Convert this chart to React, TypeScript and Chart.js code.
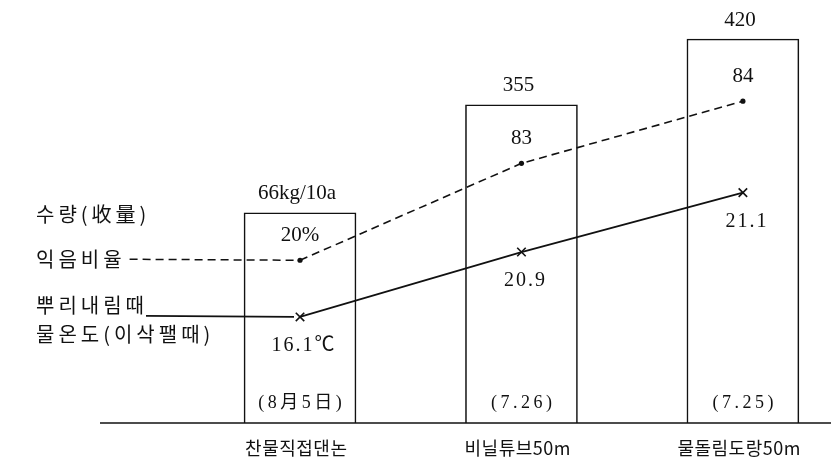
import { useEffect, useRef } from "react";
import { Chart, registerables } from "chart.js";

Chart.register(...registerables);

// ---- data ----
const categories = ["찬물직접댄논", "비닐튜브50m", "물돌림도랑50m"];
const harvestDates = ["(8月5日)", "(7.26)", "(7.25)"];
const seriesNames = ["수량(收量)", "익음비율", "뿌리내림때", "물온도(이삭팰때)"];

// values printed in the figure
const yieldValues = [66, 355, 420]; // kg/10a
const yieldLabels = ["66kg/10a", "355", "420"];
const ripeningValues = [20, 83, 84]; // %
const ripeningLabels = ["20%", "83", "84"];
const waterTempValues = [16.1, 20.9, 21.1]; // ℃
const waterTempLabels = ["16.1℃", "20.9", "21.1"];

// the original figure is schematic (not to scale): heights as drawn,
// expressed on the yield axis (0 – 420)
const yieldDrawn = [230, 348, 420];
const ripeningDrawn = [178, 284, 352];
const waterTempDrawn = [116, 187, 252];

const SERIF = "'Liberation Serif', 'Noto Sans CJK KR', serif";
const KOR = "'Noto Sans CJK KR', 'Liberation Serif', sans-serif";

const toPoints = (arr: number[]) => arr.map((v, i) => ({ x: i + 1, y: v }));

const annotate = {
  id: "annotate",
  afterDatasetsDraw(chart: any) {
    const ctx = chart.ctx as CanvasRenderingContext2D;
    const yScale = chart.scales.y;
    const y0 = yScale.getPixelForValue(0);
    const bars = chart.getDatasetMeta(0).data;
    const ripe = chart.getDatasetMeta(1).data;
    const temp = chart.getDatasetMeta(2).data;
    ctx.save();
    ctx.fillStyle = "#111";
    ctx.strokeStyle = "#111";

    // baseline
    ctx.lineWidth = 1.6;
    ctx.setLineDash([]);
    ctx.beginPath();
    ctx.moveTo(100, y0);
    ctx.lineTo(chart.width, y0);
    ctx.stroke();

    const text = (s: string, x: number, y: number, font: string, spacing: number, align: CanvasTextAlign = "center") => {
      ctx.font = font;
      (ctx as any).letterSpacing = spacing + "px";
      ctx.textAlign = align;
      ctx.textBaseline = "middle";
      const w = ctx.measureText(s).width;
      const dx = align === "center" ? spacing / 2 : 0;
      ctx.fillText(s, x + dx, y);
      return w;
    };

    // bar labels, dates and categories
    bars.forEach((b: any, i: number) => {
      text(yieldLabels[i], b.x - 3, b.y - 19, `21px ${SERIF}`, 0);
      text(harvestDates[i], b.x, y0 - 20, `18px ${SERIF}`, 3.5);
      text(categories[i], b.x - 4, y0 + 25, `18px ${KOR}`, 0.5);
    });

    // line labels
    ripe.forEach((p: any, i: number) => {
      text(ripeningLabels[i], p.x, p.y - 25, `21px ${SERIF}`, 0);
    });
    temp.forEach((p: any, i: number) => {
      text(waterTempLabels[i], p.x + 3, p.y + 29, `20px ${SERIF}`, 2);
    });

    // left-side series names and leader lines
    const kfont = `20px ${KOR}`;
    const x0 = 36;
    text(seriesNames[0], x0, bars[0].y + 2, kfont, 4, "left");
    const w1 = text(seriesNames[1], x0, ripe[0].y - 1, kfont, 4, "left");
    const w2 = text(seriesNames[2], x0, temp[0].y - 12, kfont, 4, "left");
    text(seriesNames[3], x0, temp[0].y + 17, kfont, 4, "left");
    (ctx as any).letterSpacing = "0px";

    ctx.lineWidth = 1.5;
    ctx.setLineDash([8, 5]);
    ctx.beginPath();
    ctx.moveTo(x0 + w1 + 4, ripe[0].y - 1);
    ctx.lineTo(ripe[0].x - 5, ripe[0].y);
    ctx.stroke();

    ctx.setLineDash([]);
    ctx.lineWidth = 1.8;
    ctx.beginPath();
    ctx.moveTo(x0 + w2 - 2, temp[0].y - 1);
    ctx.lineTo(temp[0].x - 6, temp[0].y);
    ctx.stroke();
    ctx.restore();
  },
};

export default function App() {
  const ref = useRef<HTMLCanvasElement | null>(null);
  useEffect(() => {
    document.body.style.margin = "0";
    const chart = new Chart(ref.current as HTMLCanvasElement, {
      type: "bar",
      data: {
        datasets: [
          {
            type: "bar",
            label: seriesNames[0],
            data: toPoints(yieldDrawn),
            backgroundColor: "#ffffff",
            borderColor: "#111",
            borderWidth: 1.6,
            borderSkipped: "bottom",
            barThickness: 112,
            order: 3,
            clip: false,
          } as any,
          {
            type: "line",
            label: seriesNames[1],
            data: toPoints(ripeningDrawn),
            borderColor: "#111",
            borderWidth: 1.6,
            borderDash: [8, 5],
            pointStyle: "circle",
            pointRadius: 2.6,
            pointBackgroundColor: "#111",
            pointBorderColor: "#111",
            pointBorderWidth: 0,
            fill: false,
            tension: 0,
            order: 1,
            clip: false,
          } as any,
          {
            type: "line",
            label: seriesNames[2],
            data: toPoints(waterTempDrawn),
            borderColor: "#111",
            borderWidth: 1.8,
            pointStyle: "crossRot",
            pointRadius: 6,
            pointBorderColor: "#111",
            pointBorderWidth: 1.6,
            fill: false,
            tension: 0,
            order: 0,
            clip: false,
          } as any,
        ],
      },
      options: {
        animation: false,
        responsive: false,
        devicePixelRatio: 1,
        layout: { padding: { top: 39, bottom: 35, left: 0, right: 0 } },
        scales: {
          x: { type: "linear", min: -0.3205, max: 3.3635, offset: false, display: false },
          y: { min: 0, max: 420, display: false },
        },
        plugins: {
          legend: { display: false },
          tooltip: { enabled: false },
        },
      },
      plugins: [annotate],
    });
    return () => chart.destroy();
  }, []);
  return (
    <div style={{ width: 831, height: 458, position: "relative", background: "#fff" }}>
      <canvas ref={ref} width={831} height={458} style={{ display: "block", width: 831, height: 458 }} />
    </div>
  );
}
